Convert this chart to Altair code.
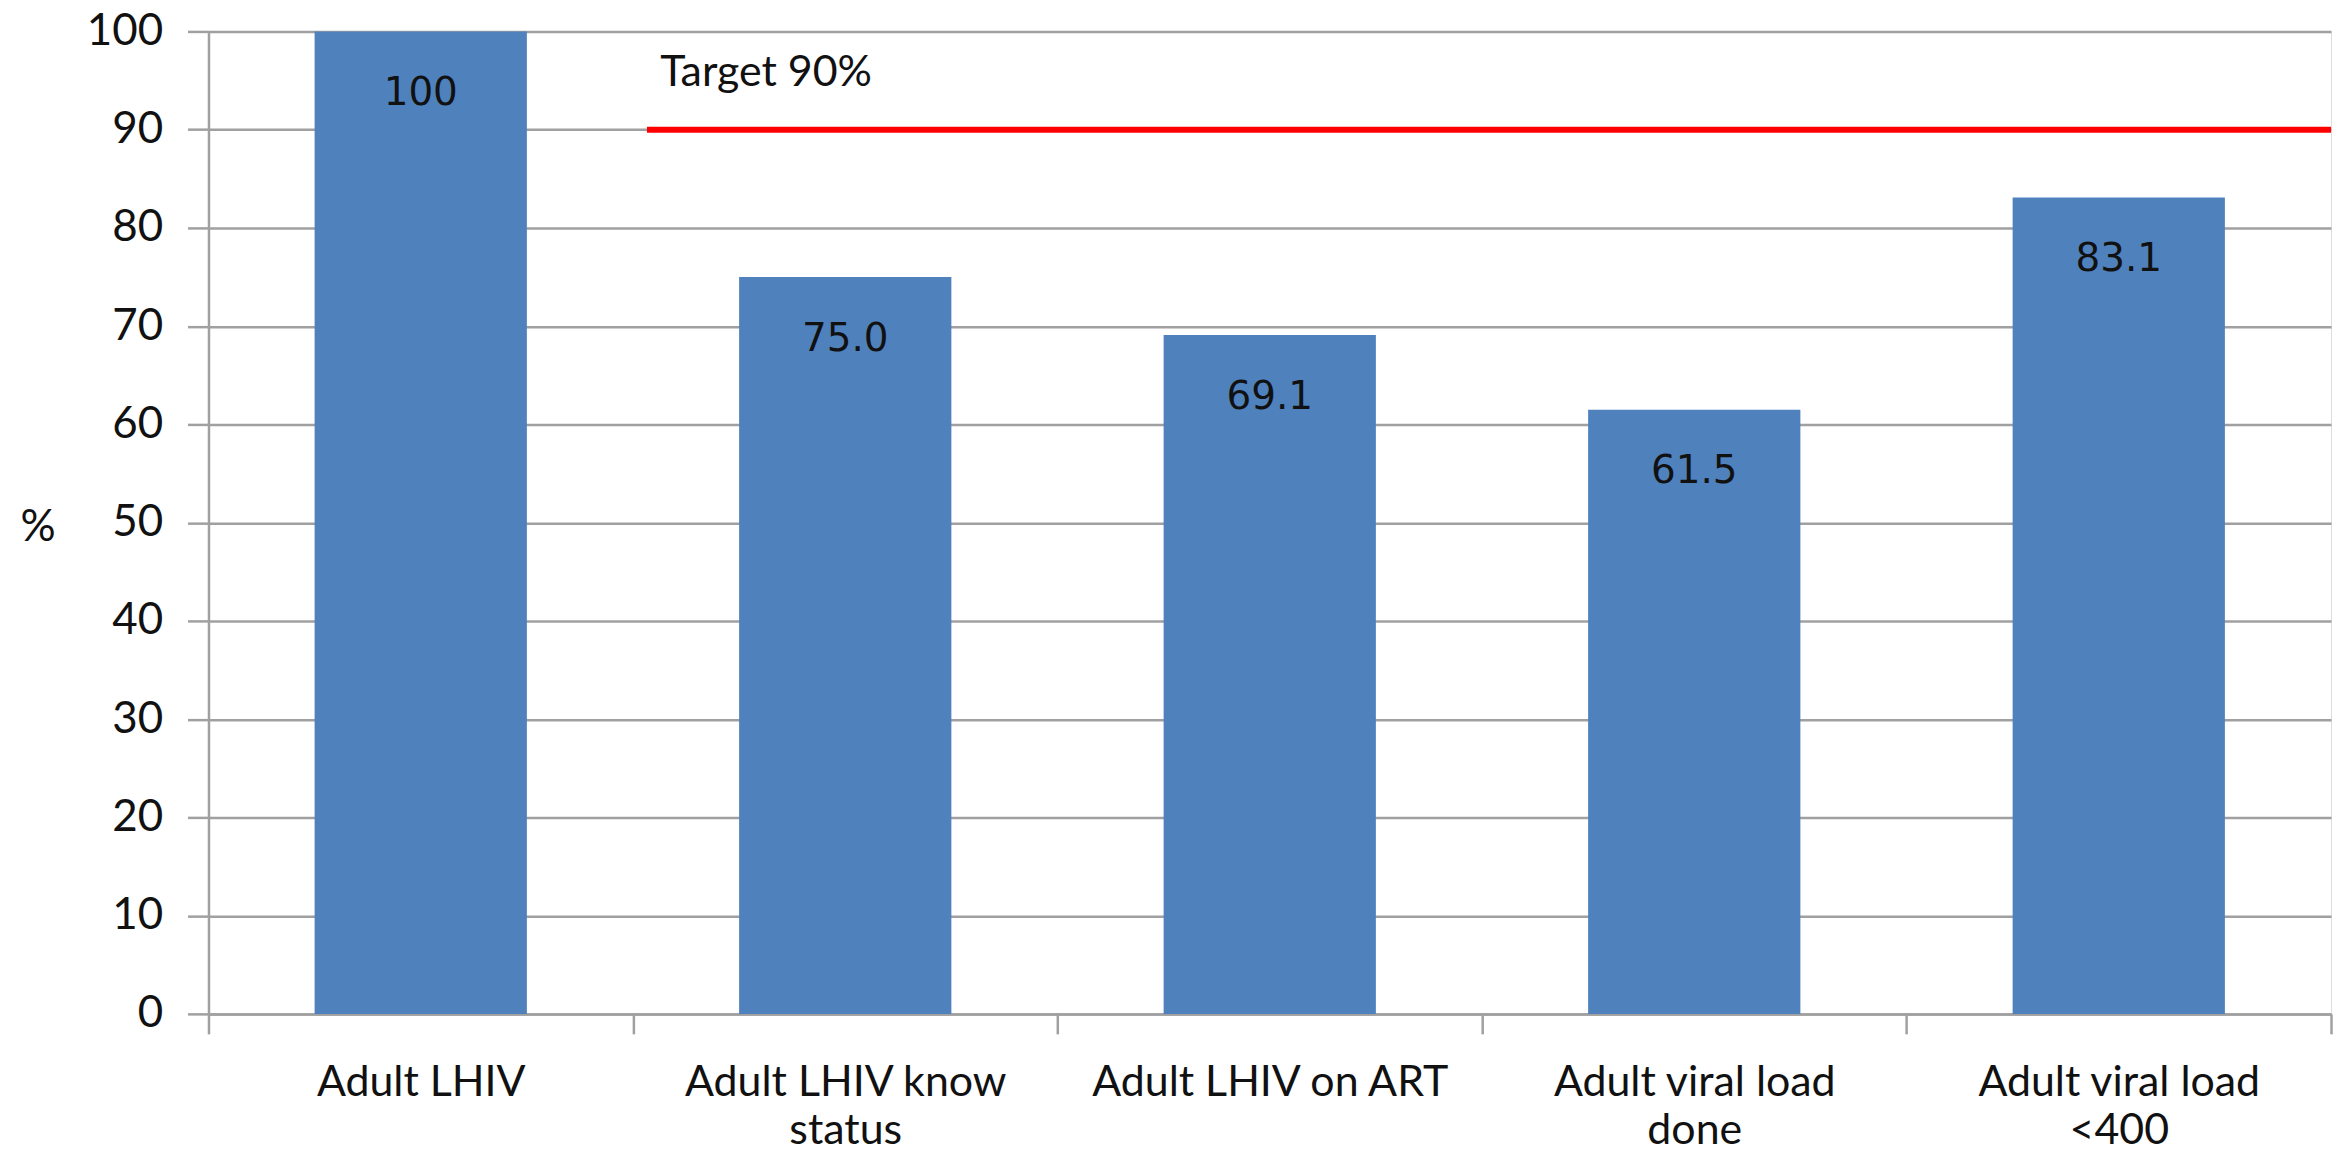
import altair as alt
import pandas as pd

categories = [
    "Adult LHIV",
    "Adult LHIV know\nstatus",
    "Adult LHIV on ART",
    "Adult viral load\ndone",
    "Adult viral load\n<400",
]
values = [100, 75.0, 69.1, 61.5, 83.1]
value_labels = ["100", "75.0", "69.1", "61.5", "83.1"]
target_value = 90
target_label = "Target 90%"
target_start = categories[1]
y_ticks = list(range(0, 101, 10))

W, H = 2128, 985
GRID = "#A0A0A0"
FONT = "Lato"

df = pd.DataFrame({"cat": categories, "val": values, "lab": value_labels})
tdf = pd.DataFrame({"cat": [target_start], "val": [target_value], "lab": [target_label]})

xscale = alt.Scale(domain=categories, paddingInner=0, paddingOuter=0)
yscale = alt.Scale(domain=[0, 100], nice=False)

x_axis = alt.Axis(
    title=None, labelAngle=0, labelFont=FONT, labelFontSize=43, labelColor="#111111",
    labelBaseline="top", labelLineHeight=48, labelPadding=28, labelLimit=0,
    labelExpr="split(datum.label, '\\n')",
    tickBand="extent", tickSize=20, tickColor=GRID, tickWidth=2.5,
    domainColor=GRID, domainWidth=2.5, grid=False,
)
y_axis = alt.Axis(
    title="%", titleAngle=0, titleAlign="left", titleBaseline="middle",
    titleX=-189, titleY=497, titleFont=FONT, titleFontSize=44, titleFontWeight="normal",
    titleColor="#111111",
    values=y_ticks, labelFont=FONT, labelFontSize=44, labelColor="#111111",
    labelPadding=25, tickSize=21, tickColor=GRID, tickWidth=2.5,
    domainColor=GRID, domainWidth=2.5, grid=True, gridColor=GRID, gridWidth=2.5,
)

bars = alt.Chart(df).mark_bar(color="#4F81BD", width=alt.RelativeBandSize(0.5)).encode(
    x=alt.X("cat:N", scale=xscale, axis=x_axis, sort=categories),
    y=alt.Y("val:Q", scale=yscale, axis=y_axis),
)

labels = alt.Chart(df).mark_text(
    font="DejaVu Sans", fontSize=39, color="#111111", baseline="middle", dy=62
).encode(
    x=alt.X("cat:N", scale=xscale, sort=categories),
    y=alt.Y("val:Q", scale=yscale),
    text="lab:N",
)

rule = alt.Chart(tdf).mark_rule(color="#FF0000", strokeWidth=6).encode(
    x=alt.X("cat:N", scale=xscale, sort=categories, bandPosition=0.033),
    x2=alt.value(W),
    y=alt.Y("val:Q", scale=yscale),
)

ttext = alt.Chart(tdf).mark_text(
    font=FONT, fontSize=43, color="#111111", align="left", baseline="alphabetic", dy=-44
).encode(
    x=alt.X("cat:N", scale=xscale, sort=categories, bandPosition=0.064),
    y=alt.Y("val:Q", scale=yscale),
    text="lab:N",
)

chart = alt.layer(bars, labels, rule, ttext).properties(
    width=W, height=H,
    autosize=alt.AutoSizeParams(type="none"),
    padding={"left": 201, "top": 22, "right": 5, "bottom": 143},
).configure_view(stroke=None).configure(background="white")

chart.save("out.html", embed_options={"renderer": "svg", "actions": False})
